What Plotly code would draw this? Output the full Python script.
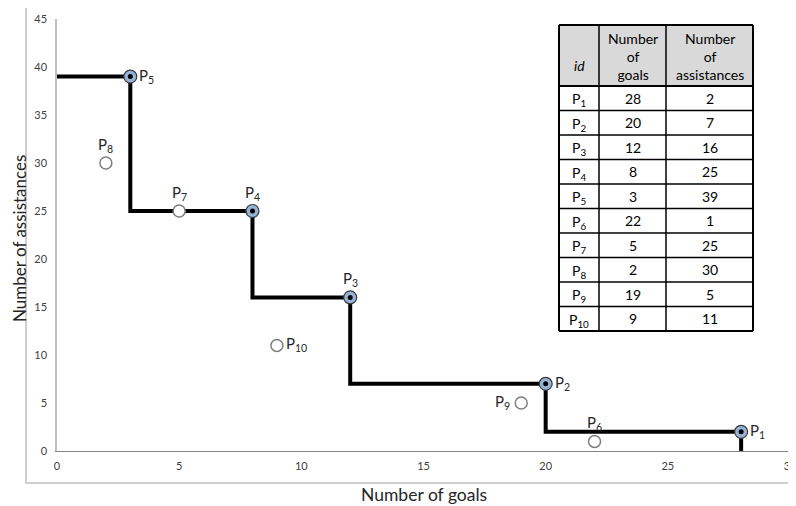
import plotly.graph_objects as go

ids = ["P1", "P2", "P3", "P4", "P5", "P6", "P7", "P8", "P9", "P10"]
goals = [28, 20, 12, 8, 3, 22, 5, 2, 19, 9]
assists = [2, 7, 16, 25, 39, 1, 25, 30, 5, 11]
label_side = ["right", "right", "top", "top", "right", "top", "top", "top", "left", "right"]

x_title = "Number of goals"
y_title = "Number of assistances"
header_labels = ["<i>id</i>", "Number<br>of<br>goals", "Number<br>of<br>assistances"]

FONT = "Lato"

# plot area in window pixels (page body has an 8px margin)
PL, PT, PW, PH = 57, 19, 733, 432


def px(X):
    return (X - PL) / PW


def py(Y):
    return (PT + PH - Y) / PH


def sub_label(s):
    return "P<sub>%s</sub>" % s[1:]


# Pareto frontier
n = len(ids)
front = []
for i in range(n):
    dom = False
    for j in range(n):
        if j != i and goals[j] >= goals[i] and assists[j] >= assists[i] and (goals[j] > goals[i] or assists[j] > assists[i]):
            dom = True
    front.append(not dom)

fi = sorted([i for i in range(n) if front[i]], key=lambda k: goals[k])
oi = [i for i in range(n) if not front[i]]
fx = [goals[i] for i in fi]
fy = [assists[i] for i in fi]

step_x = [0] + fx + [fx[-1]]
step_y = [fy[0]] + fy + [0]

fig = go.Figure()
fig.add_trace(go.Scatter(x=step_x, y=step_y, mode="lines", line=dict(color="black", width=4, shape="vh"),
                         hoverinfo="skip", showlegend=False))
fig.add_trace(go.Scatter(x=[goals[i] for i in oi], y=[assists[i] for i in oi], mode="markers",
                         marker=dict(size=12, color="white", line=dict(color="#7f7f7f", width=1.5)),
                         showlegend=False))
fig.add_trace(go.Scatter(x=fx, y=fy, mode="markers",
                         marker=dict(size=13, color="#95b3d7", line=dict(color="#3a3a3a", width=1.2)),
                         showlegend=False))
fig.add_trace(go.Scatter(x=fx, y=fy, mode="markers",
                         marker=dict(size=5, color="black"), showlegend=False))

for i in range(n):
    side = label_side[i]
    a = dict(x=goals[i], y=assists[i], text=sub_label(ids[i]), showarrow=False,
             font=dict(family=FONT, size=15, color="#262626"))
    if side == "right":
        a.update(xanchor="left", yanchor="middle", xshift=7, yshift=1)
    elif side == "left":
        a.update(xanchor="right", yanchor="middle", xshift=-9, yshift=1)
    else:
        a.update(xanchor="center", yanchor="bottom", yshift=6)
    fig.add_annotation(**a)

# ---- table (drawn with shapes + annotations) ----
col_x = [559, 599, 666, 753]
t_top, h_bot, row_h = 25, 86, 24.5
t_bot = h_bot + row_h * len(ids)
tfont = dict(family=FONT, size=14, color="black")

fig.add_shape(type="rect", xref="paper", yref="paper", x0=px(col_x[0]), x1=px(col_x[-1]),
              y0=py(h_bot), y1=py(t_top), fillcolor="#d9d9d9", line=dict(width=0), layer="above")
fig.add_shape(type="rect", xref="paper", yref="paper", x0=px(col_x[0]), x1=px(col_x[-1]),
              y0=py(t_bot), y1=py(h_bot), fillcolor="white", line=dict(width=0), layer="above")
for k in range(len(ids) + 1):
    Y = h_bot + row_h * k
    fig.add_shape(type="line", xref="paper", yref="paper", x0=px(col_x[0]), x1=px(col_x[-1]),
                  y0=py(Y), y1=py(Y), line=dict(color="black", width=1.5 if 0 < k < len(ids) else 2),
                  layer="above")
fig.add_shape(type="line", xref="paper", yref="paper", x0=px(col_x[0]), x1=px(col_x[-1]),
              y0=py(t_top), y1=py(t_top), line=dict(color="black", width=2), layer="above")
for c, X in enumerate(col_x):
    fig.add_shape(type="line", xref="paper", yref="paper", x0=px(X), x1=px(X),
                  y0=py(t_bot), y1=py(t_top),
                  line=dict(color="black", width=2 if c in (0, len(col_x) - 1) else 1.5), layer="above")

centers = [(col_x[c] + col_x[c + 1]) / 2 for c in range(3)]
header_y = [65, 57, 57]
for c in range(3):
    fig.add_annotation(xref="paper", yref="paper", x=px(centers[c]), y=py(header_y[c]),
                       text=header_labels[c], showarrow=False, xanchor="center", yanchor="middle",
                       font=tfont)
columns = [[sub_label(s) for s in ids], [str(v) for v in goals], [str(v) for v in assists]]
for r in range(len(ids)):
    Yc = h_bot + row_h * (r + 0.5)
    for c in range(3):
        fig.add_annotation(xref="paper", yref="paper", x=px(centers[c]), y=py(Yc + (1.5 if c == 0 else 0)),
                           text=columns[c][r], showarrow=False, xanchor="center", yanchor="middle",
                           font=tfont)

# axis titles
fig.add_annotation(xref="paper", yref="paper", x=px(424), y=py(494), text=x_title,
                   showarrow=False, xanchor="center", yanchor="middle",
                   font=dict(family=FONT, size=17.5, color="#262626"))
fig.add_annotation(xref="paper", yref="paper", x=px(19), y=py(239), text=y_title,
                   showarrow=False, xanchor="center", yanchor="middle", textangle=-90,
                   font=dict(family=FONT, size=17, color="#262626"))

# outer frame
fig.add_shape(type="rect", xref="paper", yref="paper",
              x0=px(26), x1=px(795), y0=py(483), y1=py(6),
              line=dict(color="#c0c0c0", width=1.5), fillcolor="rgba(0,0,0,0)", layer="below")

fig.update_xaxes(range=[0, 30], dtick=5, tick0=0, showgrid=False, zeroline=False, showline=True,
                 linecolor="#868686", linewidth=1, ticks="", ticklabelstandoff=5,
                 ticklabeloverflow="allow",
                 tickfont=dict(family=FONT, size=11, color="#404040"))
fig.update_yaxes(range=[0, 45], dtick=5, tick0=0, showgrid=False, zeroline=False, showline=True,
                 linecolor="#bfbfbf", linewidth=1.5, ticks="", ticklabelstandoff=6,
                 ticklabeloverflow="allow",
                 tickfont=dict(family=FONT, size=11, color="#404040"))

fig.update_layout(width=788, height=498, margin=dict(l=PL - 8, r=6, t=PT - 8, b=55, autoexpand=False),
                  plot_bgcolor="white", paper_bgcolor="white", font=dict(family=FONT),
                  showlegend=False)

fig.write_html("out.html")
